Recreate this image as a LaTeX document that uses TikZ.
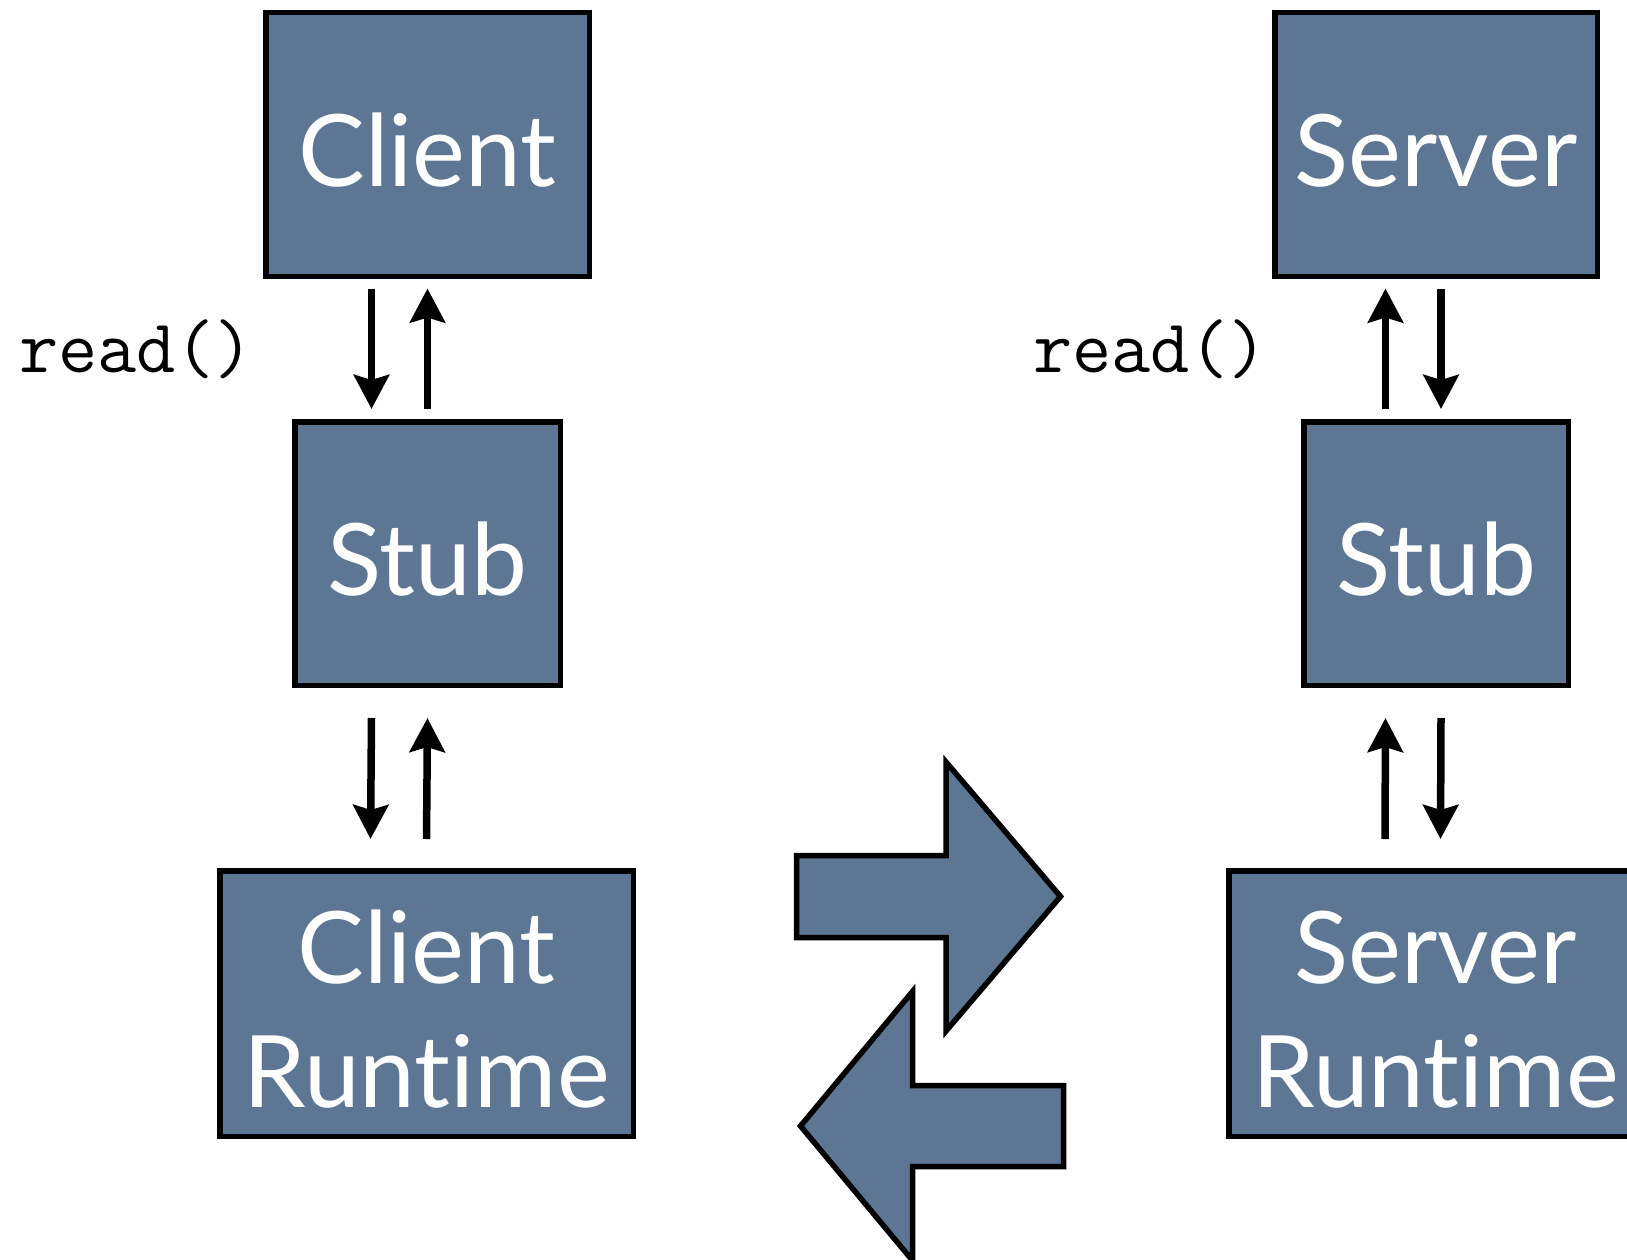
\documentclass[tikz,border=0pt]{standalone}
\usepackage{fontspec}
\usetikzlibrary{arrows.meta}
\newfontfamily\labelfont[Ligatures=NoCommon]{Lato}
\definecolor{slate}{RGB}{93,118,147}
% extra room above the first line sets the lettering a little lower in its box
\newcommand\lowered[1]{\raisebox{0pt}[\dimexpr\height+12pt\relax][\depth]{#1}}
\begin{document}
\begin{tikzpicture}[x=1pt,y=-1pt,
  block/.style={draw=black, line width=5.5pt, fill=slate, inner sep=0pt, text=white,
    font=\labelfont\fontsize{100}{124}\selectfont, align=center},
  flow/.style={line width=7.5pt, -{Stealth[length=34pt,width=35pt,inset=5pt]}},
  bigarrow/.style={draw=black, line width=5.5pt, fill=slate, line join=miter},
  call/.style={font=\ttfamily\fontsize{76}{76}\selectfont, anchor=base west, inner sep=0pt}]

\useasboundingbox (0,0) rectangle (1627,1260);
\clip (0,0) rectangle (1627,1260);

% client side
\node[block, minimum width=323.5, minimum height=263.5] (client) at (427.5,144.5) {\lowered{Client}};
\node[block, minimum width=265.5, minimum height=263.5] (cstub) at (427.5,553.5) {\lowered{Stub}};
\node[block, minimum width=413.5, minimum height=265.5] (crun) at (426.5,1003.5) {\lowered{Client}\\Runtime};

% server side
\node[block, minimum width=322.5, minimum height=263.5] (server) at (1436,144.5) {\lowered{Server}};
\node[block, minimum width=264.5, minimum height=263.5] (sstub) at (1436,553.5) {\lowered{Stub}};
\node[block, minimum width=413.5, minimum height=265.5] (srun) at (1435.5,1003.5) {\lowered{Server}\\Runtime};

% calls between the layers
\draw[flow] ([xshift=-56pt,yshift=-9.5pt]client.south) -- ([xshift=-56pt,yshift=10pt]cstub.north);
\draw[flow] ([yshift=10pt]cstub.north) -- ([yshift=-9.5pt]client.south);
\draw[flow] ([xshift=-56pt,yshift=-30pt]cstub.south) -- ([xshift=-56pt,yshift=29pt]crun.north);
\draw[flow] ([yshift=29pt]crun.north) -- ([yshift=-30pt]cstub.south);

\draw[flow] ([xshift=-50.5pt,yshift=10pt]sstub.north) -- ([xshift=-50.5pt,yshift=-9.5pt]server.south);
\draw[flow] ([xshift=5pt,yshift=-9.5pt]server.south) -- ([xshift=5pt,yshift=10pt]sstub.north);
\draw[flow] ([xshift=-50.5pt,yshift=29pt]srun.north) -- ([xshift=-50.5pt,yshift=-30pt]sstub.south);
\draw[flow] ([xshift=5pt,yshift=-30pt]sstub.south) -- ([xshift=5pt,yshift=29pt]srun.north);

% call labels
\node[call] (readc) at (19,372) {read()};
\node[call] (reads) at (1033,372) {read()};

% network traffic between the runtimes
\path[bigarrow] (796.5,855.5) -- (946,855.5) -- (946,762) -- (1060.5,896.5)
  -- (946,1031) -- (946,937.5) -- (796.5,937.5) -- cycle;
\path[bigarrow] (1063.5,1085.5) -- (912.5,1085.5) -- (912.5,991.5) -- (800.5,1126)
  -- (912.5,1260.5) -- (912.5,1166.5) -- (1063.5,1166.5) -- cycle;
\end{tikzpicture}
\end{document}
